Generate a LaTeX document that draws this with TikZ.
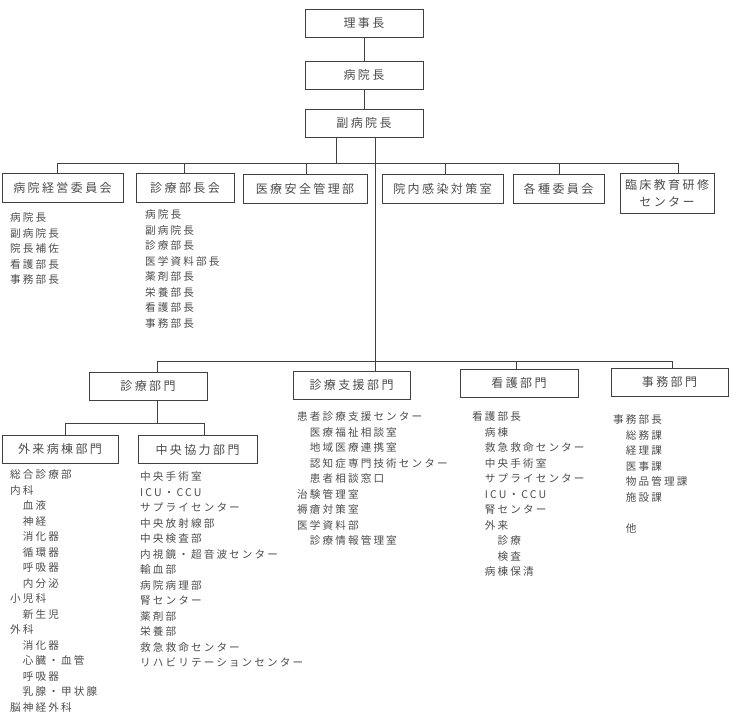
\documentclass[tikz,border=0pt]{standalone}
\usepackage{fontspec}
\newfontfamily\jpfont[LetterSpace=20]{Noto Sans CJK JP}
\usepackage{tikz}
\tikzset{
    box/.style={rectangle, draw=black!75, line width=0.9pt, align=center,
        minimum height=28pt, inner sep=0pt, text=black!70,
        font={\jpfont\fontsize{12}{17}\selectfont}},
    member/.style={anchor=north west, align=left, inner sep=0pt, text=black!70,
        font={\jpfont\fontsize{10.6}{15.5}\selectfont}},
    link/.style={draw=black!75, line width=0.9pt},
}

\begin{document}
\begin{tikzpicture}[x=1pt, y=-1pt]
        \useasboundingbox (0,0) rectangle (732,720);
        \node[box, minimum width=118pt] (rijicho) at (364,23) {理事長};
        \node[box, minimum width=118pt] (incho) at (364,75) {病院長};
        \node[box, minimum width=118pt] (fukuincho) at (364,123) {副病院長};

        \node[box, minimum width=121pt, minimum height=29pt] (keiei) at (62.5,188) {病院経営委員会};
        \node[box, minimum width=98pt, minimum height=29pt] (bucho) at (185,188) {診療部長会};
        \node[box, minimum width=124pt, minimum height=29pt] (anzen) at (305,188.5) {医療安全管理部};
        \node[box, minimum width=121pt, minimum height=29pt] (kansen) at (442.5,188.5) {院内感染対策室};
        \node[box, minimum width=91pt, minimum height=29pt] (kakushu) at (558.5,188.5) {各種委員会};
        \node[box, minimum width=94pt, minimum height=40pt] (rinsho) at (667,193) {臨床教育研修\\センター};

        \node[box, minimum width=118pt] (shinryo) at (148,386) {診療部門};
        \node[box, minimum width=117pt] (shien) at (351.5,385) {診療支援部門};
        \node[box, minimum width=118pt] (kango) at (519,383) {看護部門};
        \node[box, minimum width=117pt] (jimu) at (669.5,382) {事務部門};
        \node[box, minimum width=116pt] (gairai) at (60,449) {外来病棟部門};
        \node[box, minimum width=119pt] (chuo) at (197.5,449.5) {中央協力部門};

        \node[member] (keiei-list) at (10,212.5) {病院長\\副病院長\\院長補佐\\看護部長\\事務部長};
        \node[member] (bucho-list) at (145,209.5) {病院長\\副病院長\\診療部長\\医学資料部長\\薬剤部長\\栄養部長\\看護部長\\事務部長};
        \node[member] (gairai-list) at (10,469.5) {総合診療部\\内科\\　血液\\　神経\\　消化器\\　循環器\\　呼吸器\\　内分泌\\小児科\\　新生児\\外科\\　消化器\\　心臓・血管\\　呼吸器\\　乳腺・甲状腺\\脳神経外科};
        \node[member] (chuo-list) at (140,471.5) {中央手術室\\ICU・CCU\\サプライセンター\\中央放射線部\\中央検査部\\内視鏡・超音波センター\\輸血部\\病院病理部\\腎センター\\薬剤部\\栄養部\\救急救命センター\\リハビリテーションセンター};
        \node[member] (shien-list) at (297,411.5) {患者診療支援センター\\　医療福祉相談室\\　地域医療連携室\\　認知症専門技術センター\\　患者相談窓口\\治験管理室\\褥瘡対策室\\医学資料部\\　診療情報管理室};
        \node[member] (kango-list) at (472,411.5) {看護部長\\　病棟\\　救急救命センター\\　中央手術室\\　サプライセンター\\　ICU・CCU\\　腎センター\\　外来\\　　診療\\　　検査\\　病棟保清};
        \node[member] (jimu-list) at (613,414.5) {事務部長\\　総務課\\　経理課\\　医事課\\　物品管理課\\　施設課\\\mbox{}\\　他};

        \draw[link] (rijicho) -- (incho);
        \draw[link] (incho) -- (fukuincho);

        \coordinate (j-fuku) at (336,163);
        \draw[link] (fukuincho.south -| j-fuku) -- (j-fuku);
        \foreach \n/\x in {keiei/57, bucho/184, anzen/306, kansen/445, kakushu/559, rinsho/678} {
            \path (\x,163) coordinate (j-\n);
            \draw[link] (j-\n) -- (j-\n |- \n.north);
        }
        \draw[link] (j-keiei) -- (j-rinsho);

        \foreach \n/\x in {shinryo/157, shien/375, kango/516, jimu/672} {
            \path (\x,361) coordinate (k-\n);
            \draw[link] (k-\n) -- (k-\n |- \n.north);
        }
        \draw[link] (k-shinryo) -- (k-jimu);
        \draw[link] (fukuincho.south -| k-shien) -- (k-shien);

        \coordinate (s-mid) at (157,423);
        \draw[link] (shinryo.south -| s-mid) -- (s-mid);
        \foreach \n/\x in {gairai/65, chuo/204} {
            \path (\x,423) coordinate (s-\n);
            \draw[link] (s-\n) -- (s-\n |- \n.north);
        }
        \draw[link] (s-gairai) -- (s-chuo);
    \end{tikzpicture}
\end{document}
